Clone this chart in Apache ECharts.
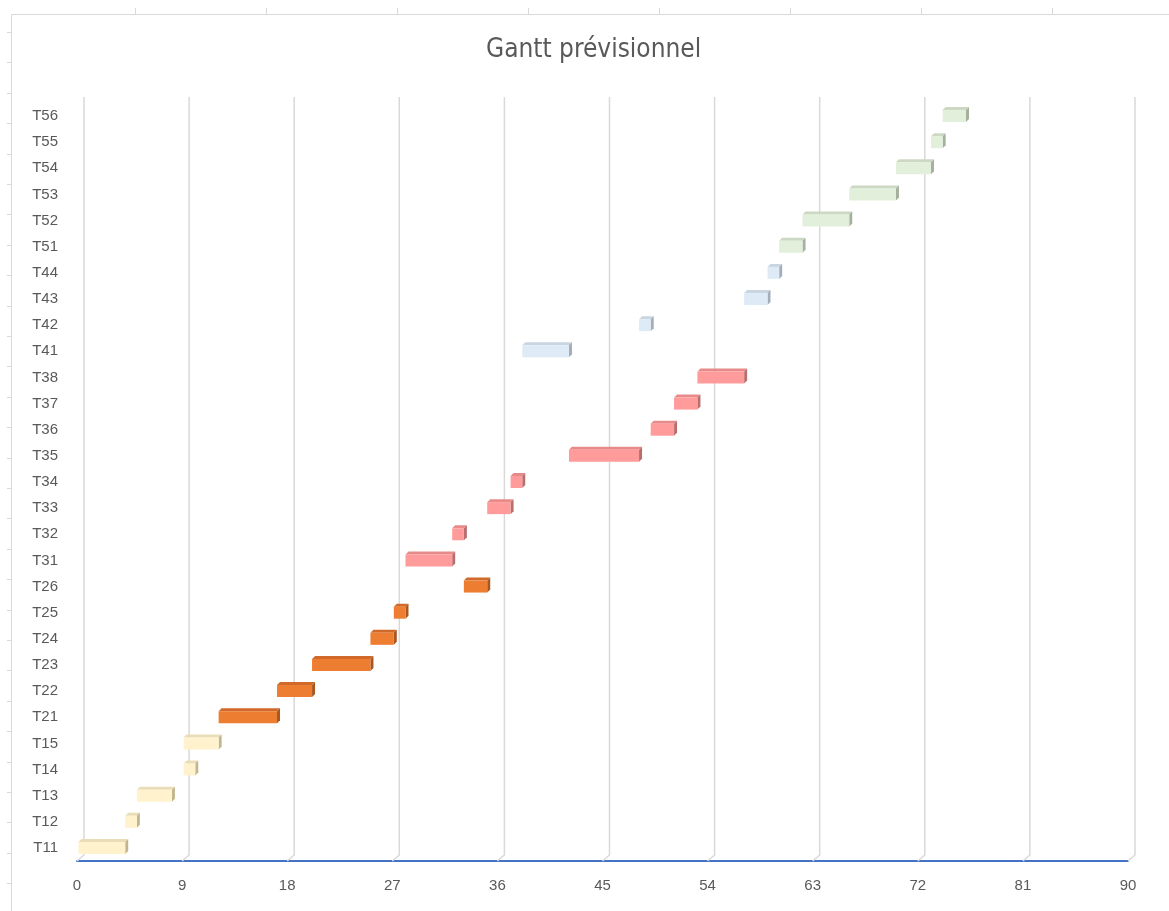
<!DOCTYPE html>
<html>
<head>
<meta charset="utf-8">
<script src="https://cdn.jsdelivr.net/npm/echarts@6/dist/echarts.min.js"></script>
<style>
  html, body { margin: 0; background: #fff; }
  #chart { width: 1169px; height: 911px; }
</style>
</head>
<body>
<div id="chart"></div>
<script>
// tasks from bottom (T11) to top (T56)
const tasks = ['T11', 'T12', 'T13', 'T14', 'T15',
  'T21', 'T22', 'T23', 'T24', 'T25', 'T26',
  'T31', 'T32', 'T33', 'T34', 'T35', 'T36', 'T37', 'T38',
  'T41', 'T42', 'T43', 'T44',
  'T51', 'T52', 'T53', 'T54', 'T55', 'T56'];
const starts = [0, 4, 5, 9, 9,
  12, 17, 20, 25, 27, 33,
  28, 32, 35, 37, 42, 49, 51, 53,
  38, 48, 57, 59,
  60, 62, 66, 70, 73, 74];
const durations = [4, 1, 3, 1, 3,
  5, 3, 5, 2, 1, 2,
  4, 1, 2, 1, 6, 2, 2, 4,
  4, 1, 2, 1,
  2, 4, 4, 3, 1, 2];
const xTicks = [0, 9, 18, 27, 36, 45, 54, 63, 72, 81, 90];

// colours per phase (first digit of the task name)
const phaseColors = {
  1: {front: '#FFF2CC', top: '#E9DDB8', side: '#C2B68F'},
  2: {front: '#ED7D31', top: '#D0692A', side: '#A9561F'},
  3: {front: '#FF9B9B', top: '#E88A8A', side: '#B96E6E'},
  4: {front: '#DEEBF7', top: '#C9D5E0', side: '#A2AEB9'},
  5: {front: '#E2EFDA', top: '#CCD8C4', side: '#A5B19D'},
};

const txt = '#595959';
const font = 'Liberation Sans';

const barData = tasks.map((t, i) => [i, starts[i], starts[i] + durations[i], +t[1]]);

function renderBar(params, api) {
  const cat = api.value(0);
  const p0 = api.coord([api.value(1), cat]);
  const p1 = api.coord([api.value(2), cat]);
  const h = 12;
  const d = 3;
  const x0 = p0[0] + 1.5;
  const x1 = p1[0] + 1.5;
  const y0 = p0[1] - 6;
  const y1 = y0 + h;
  const c = phaseColors[api.value(3)];
  return {
    type: 'group',
    children: [
      {type: 'polygon', shape: {points: [[x0, y0], [x0 + d, y0 - d], [x1 + d, y0 - d], [x1, y0]]},
        style: {fill: c.top}},
      {type: 'polygon', shape: {points: [[x1, y0], [x1 + d, y0 - d], [x1 + d, y1 - d], [x1, y1]]},
        style: {fill: c.side}},
      {type: 'rect', shape: {x: x0, y: y0, width: x1 - x0, height: h}, style: {fill: c.front}},
    ],
  };
}

// back-wall grid lines, shifted by the 3D depth
function renderGrid(params, api) {
  const x = api.coord([api.value(0), 0])[0];
  const band = api.size([0, 1])[1];
  const yBot = api.coord([0, 0])[1] + band / 2;
  const yTop = api.coord([0, tasks.length - 1])[1] - band / 2 - 6;
  return {
    type: 'polyline',
    shape: {points: [[x, yBot], [x + 7, yBot - 6], [x + 7, yTop]]},
    style: {stroke: '#D9D9D9', lineWidth: 1.5, fill: null},
  };
}

// frame ticks (sheet border look)
const frame = [
  {type: 'line', shape: {x1: 11.5, y1: 14.5, x2: 1169, y2: 14.5}, style: {stroke: '#D9D9D9', lineWidth: 1}},
  {type: 'line', shape: {x1: 11.5, y1: 14.5, x2: 11.5, y2: 911}, style: {stroke: '#D9D9D9', lineWidth: 1}},
];
for (let x = 135; x < 1169; x += 131) {
  frame.push({type: 'line', shape: {x1: x + 0.5, y1: 8, x2: x + 0.5, y2: 14}, style: {stroke: '#D9D9D9', lineWidth: 1}});
}
for (let y = 32; y < 911; y += 30.4) {
  frame.push({type: 'line', shape: {x1: 7, y1: Math.round(y) + 0.5, x2: 11, y2: Math.round(y) + 0.5}, style: {stroke: '#D9D9D9', lineWidth: 1}});
}

const chart = echarts.init(document.getElementById('chart'));
chart.setOption({
  backgroundColor: '#fff',
  animation: false,
  title: {
    text: 'Gantt prévisionnel',
    left: 481,
    top: 32,
    textStyle: {color: txt, fontSize: 26, fontWeight: 'normal', fontFamily: "'DejaVu Sans Condensed', 'Liberation Sans'"},
  },
  graphic: frame,
  grid: {left: 77, right: 41, top: 103, bottom: 50},
  xAxis: {
    type: 'value',
    min: 0,
    max: 90,
    interval: 9,
    splitLine: {show: false},
    axisTick: {show: false},
    axisLine: {show: true, lineStyle: {color: '#4472C4', width: 2}},
    axisLabel: {color: txt, fontSize: 15, fontFamily: font, margin: 17},
  },
  yAxis: {
    type: 'category',
    data: tasks,
    axisLine: {show: false},
    axisTick: {show: false},
    axisLabel: {color: txt, fontSize: 15, fontFamily: font, margin: 19, verticalAlign: 'middle', padding: [6, 0, 0, 0]},
  },
  series: [
    {
      type: 'custom',
      name: 'grid',
      renderItem: renderGrid,
      data: xTicks.map(t => [t]),
      encode: {x: 0},
      silent: true,
      z: 1,
    },
    {
      type: 'custom',
      name: 'tâches',
      renderItem: renderBar,
      data: barData,
      encode: {x: [1, 2], y: 0},
      z: 3,
    },
  ],
});
</script>
</body>
</html>
